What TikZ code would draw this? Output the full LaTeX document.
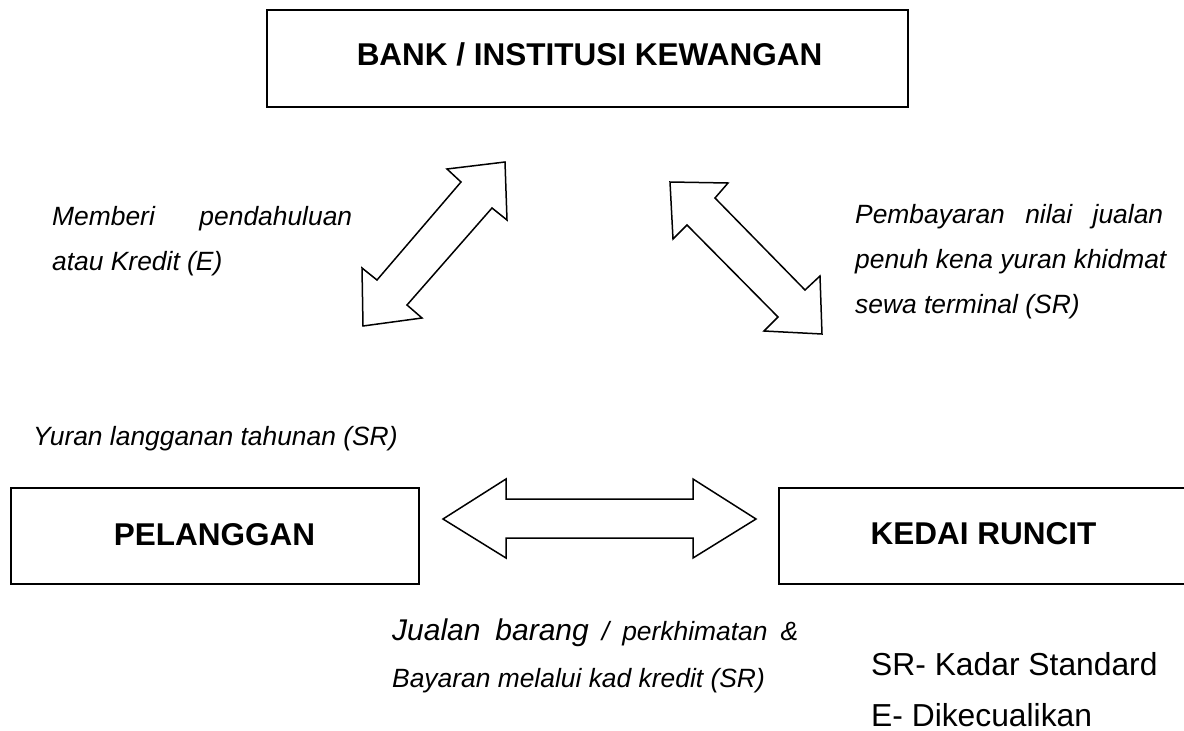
\documentclass[tikz,border=0pt]{standalone}
\usepackage{fontspec}
\setmainfont{Liberation Sans}
\begin{document}
\begin{tikzpicture}[x=1pt,y=-1pt,
  box/.style={draw, line width=1.8pt, rectangle, inner sep=0pt, outer sep=0pt},
  title/.style={font=\fontsize{31.5}{31.5}\selectfont\bfseries, inner sep=0pt, anchor=base},
  note/.style={font=\fontsize{26.4}{26.4}\selectfont\itshape, inner sep=0pt, anchor=base west},
  legendtxt/.style={font=\fontsize{31.8}{31.8}\selectfont, inner sep=0pt, anchor=base west, text depth=0pt},
  blockarrow/.style={draw, line width=1.5pt, line join=miter, fill=white}]
\useasboundingbox (0,0) rectangle (1184,731);
\clip (0,0) rectangle (1184,731);

% boxes
\node[box, minimum width=641pt, minimum height=97pt] (bank) at (587.5,58.5) {};
\node[title] (banktxt) at (589.5,65) {BANK / INSTITUSI KEWANGAN};

\node[box, minimum width=408pt, minimum height=96pt] (pel) at (215,536) {};
\node[title] (peltxt) at (214.5,545) {PELANGGAN};

\node[box, minimum width=411pt, minimum height=96pt] (kedai) at (984.5,536) {};
\node[title] (kedaitxt) at (983.5,544.5) {KEDAI RUNCIT};

% block arrows
\draw[blockarrow] (505,162) -- (447,169) -- (461,182) -- (377,280) -- (362,268) -- (363,326) -- (422,318) -- (407,305) -- (492,208) -- (507,220) -- cycle;
\draw[blockarrow] (670,182) -- (728,183) -- (715,198) -- (805,290) -- (820,276) -- (822,334) -- (764,331) -- (778,317) -- (687,225) -- (673,239) -- cycle;
\draw[blockarrow] (443,519) -- (506,479) -- (506,499) -- (693,499) -- (693,479) -- (756,519) -- (693,558) -- (693,538) -- (506,538) -- (506,558) -- cycle;

% labels
\node[note] (m1) at (52,225) {\makebox[300pt][s]{Memberi pendahuluan}};
\node[note] (m2) at (52,270) {atau Kredit (E)};

\node[note] (p1) at (855,223) {\makebox[308pt][s]{Pembayaran nilai jualan}};
\node[note] (p2) at (855,268) {penuh kena yuran khidmat};
\node[note] (p3) at (855,313) {sewa terminal (SR)};

\node[note] (yur) at (33,445) {Yuran langganan tahunan (SR)};

\node[note] (j1) at (392,640) {\makebox[406pt][s]{{\fontsize{30}{30}\selectfont Jualan barang} / perkhimatan \&}};
\node[note] (j2) at (392,687) {Bayaran melalui kad kredit (SR)};

\node[legendtxt] (sr) at (871,675) {SR- Kadar Standard};
\node[legendtxt] (ex) at (871,726) {E- Dikecualikan};
\end{tikzpicture}
\end{document}
